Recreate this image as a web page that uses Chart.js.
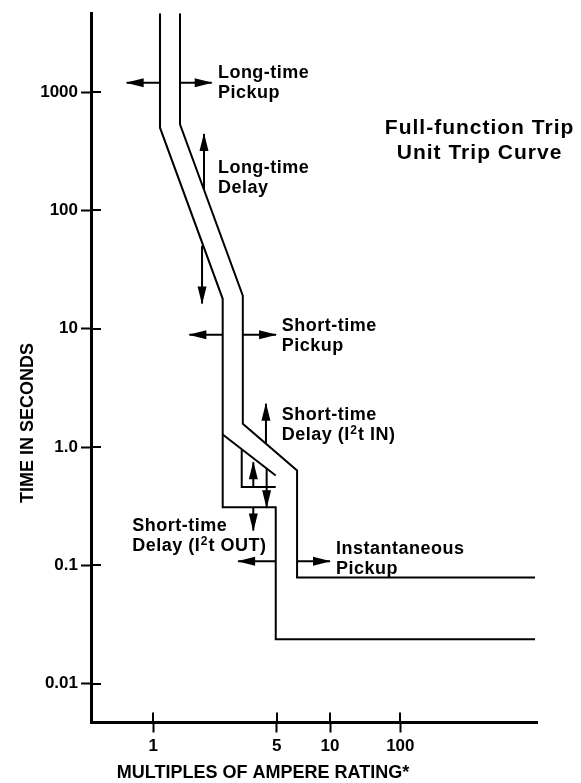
<!DOCTYPE html>
<html><head><meta charset="utf-8">
<script src="https://cdn.jsdelivr.net/npm/chart.js@4.4.0/dist/chart.umd.min.js"></script>
<style>html,body{margin:0;padding:0;background:#fff;}canvas{display:block;}</style>
</head><body>
<canvas id="c" width="581" height="783"></canvas>
<script>
// ---------------- data ----------------
const yTickValues = [0.01, 0.1, 1, 10, 100, 1000];
const yTickLabels = ['0.01', '0.1', '1.0', '10', '100', '1000'];
// The reference axis is compressed beyond 10: its "100" tick sits where 25 would fall on a true log scale.
const xTickValues = [1, 5, 10, 25];
const xTickLabels = ['1', '5', '10', '100'];

// upper (maximum) edge of the trip band
const upperX = [1.416, 1.416, 3.21, 3.21, 6.51, 6.51, 144.6];
const upperY = [4645, 534, 19.0, 1.57, 0.634, 0.0788, 0.0788];
// lower (minimum) edge of the trip band
const lowerX = [1.091, 1.091, 2.47, 2.47, 4.93, 4.93, 144.6];
const lowerY = [4645, 500, 17.9, 0.310, 0.310, 0.0237, 0.0237];
// I2t IN ramp of the lower edge
const i2tInX = [2.47, 4.93];
const i2tInY = [1.275, 0.575];
// alternate short-time delay band
const innerBoxX = [3.165, 3.165, 4.93];
const innerBoxY = [0.947, 0.458, 0.458];

// adjustment arrows: start point -> tip
const arrowX0 = [1.091, 1.416, 1.936, 1.887, 2.47, 3.21, 4.34, 3.68, 4.38, 3.68, 4.93, 6.51];
const arrowY0 = [1197, 1197, 149, 50.2, 8.9, 8.9, 1.064, 0.458, 0.659, 0.310, 0.108, 0.108];
const arrowX1 = [0.707, 2.14, 1.936, 1.887, 1.60, 4.95, 4.34, 3.68, 4.38, 3.68, 3.02, 10.0];
const arrowY1 = [1197, 1197, 442, 16.3, 8.9, 8.9, 2.32, 0.744, 0.310, 0.197, 0.108, 0.108];

// annotation texts (anchor = left end of first baseline); "²" is drawn as a raised 2
const labelLines = [
  ['Long-time', 'Pickup'],
  ['Long-time', 'Delay'],
  ['Short-time', 'Pickup'],
  ['Short-time', 'Delay (I\u00B2t IN)'],
  ['Short-time', 'Delay (I\u00B2t OUT)'],
  ['Instantaneous', 'Pickup']
];
const labelX = [2.32, 2.32, 5.33, 5.33, 0.760, 10.81];
const labelY = [1305, 208.5, 9.49, 1.696, 0.1948, 0.1255];

const titleLines = ['Full-function Trip', 'Unit Trip Curve'];
const titleX = 70.2;
const titleY = 442;

const yAxisTitle = 'TIME IN SECONDS';
const xAxisTitle = 'MULTIPLES OF AMPERE RATING*';

// ---------------- chart ----------------
const FONT = '"Liberation Sans", Arial, sans-serif';
const pts = (xs, ys) => xs.map((x, i) => ({x: x, y: ys[i]}));
const lineDs = (xs, ys) => ({data: pts(xs, ys), borderColor: '#000', borderWidth: 2,
  pointRadius: 0, fill: false, tension: 0});

const datasets = [
  lineDs(upperX, upperY),
  lineDs(lowerX, lowerY),
  lineDs(i2tInX, i2tInY),
  lineDs(innerBoxX, innerBoxY)
];
arrowX0.forEach((x, i) => {
  const d = lineDs([x, arrowX1[i]], [arrowY0[i], arrowY1[i]]);
  d.arrow = true;
  datasets.push(d);
});

function setSpacing(ctx, v) { if ('letterSpacing' in ctx) ctx.letterSpacing = v; }

// draws a line of text, rendering "²" as a raised, smaller "2"
function drawRich(ctx, s, x, y, mainFont, supFont) {
  const parts = s.split('\u00B2');
  let cx = x;
  parts.forEach((p, k) => {
    if (k > 0) {
      ctx.font = supFont;
      ctx.fillText('2', cx + 0.5, y - 6);
      cx += ctx.measureText('2').width + 1;
    }
    ctx.font = mainFont;
    ctx.fillText(p, cx, y);
    cx += ctx.measureText(p).width;
  });
}

const decor = {
  id: 'decor',
  afterDatasetsDraw(chart) {
    const ctx = chart.ctx;
    ctx.save();
    ctx.fillStyle = '#000';
    chart.data.datasets.forEach((ds, i) => {
      if (!ds.arrow) return;
      const m = chart.getDatasetMeta(i).data;
      const p0 = m[0], p1 = m[1];
      let dx = p1.x - p0.x, dy = p1.y - p0.y;
      const L = Math.hypot(dx, dy); dx /= L; dy /= L;
      const bx = p1.x - dx * 17, by = p1.y - dy * 17;
      const nx = -dy * 4.5, ny = dx * 4.5;
      ctx.beginPath();
      ctx.moveTo(p1.x + dx, p1.y + dy);
      ctx.lineTo(bx + nx, by + ny);
      ctx.lineTo(bx - nx, by - ny);
      ctx.closePath();
      ctx.fill();
    });
    ctx.restore();
  },
  afterDraw(chart) {
    const ctx = chart.ctx;
    const xs = chart.scales.x, ys = chart.scales.y;
    const ca = chart.chartArea;
    ctx.save();
    // inner halves of tick marks
    ctx.strokeStyle = '#000';
    ctx.lineWidth = 2;
    ys.ticks.forEach(t => {
      const py = Math.round(ys.getPixelForValue(t.value));
      ctx.beginPath(); ctx.moveTo(ca.left, py); ctx.lineTo(ca.left + 10, py); ctx.stroke();
    });
    xs.ticks.forEach(t => {
      const px = Math.round(xs.getPixelForValue(t.value));
      ctx.beginPath(); ctx.moveTo(px, ca.bottom); ctx.lineTo(px, ca.bottom - 10); ctx.stroke();
    });
    // annotations
    ctx.fillStyle = '#000';
    ctx.textBaseline = 'alphabetic';
    setSpacing(ctx, '0.5px');
    ctx.textAlign = 'left';
    const mainFont = 'bold 18px ' + FONT, supFont = 'bold 12px ' + FONT;
    labelLines.forEach((lines, i) => {
      const px = xs.getPixelForValue(labelX[i]);
      const py = ys.getPixelForValue(labelY[i]);
      lines.forEach((s, k) => drawRich(ctx, s, px, py + k * 20, mainFont, supFont));
    });
    // title
    ctx.font = 'bold 21px ' + FONT;
    setSpacing(ctx, '1px');
    ctx.textAlign = 'center';
    const tx = xs.getPixelForValue(titleX), ty = ys.getPixelForValue(titleY);
    titleLines.forEach((s, k) => ctx.fillText(s, tx, ty + k * 25));
    // axis titles
    setSpacing(ctx, '0px');
    ctx.font = 'bold 18px ' + FONT;
    ctx.textAlign = 'center';
    ctx.textBaseline = 'middle';
    ctx.save();
    ctx.translate(ys.left + 28, 423);
    ctx.rotate(-Math.PI / 2);
    ctx.fillText(yAxisTitle, 0, 0);
    ctx.restore();
    ctx.textBaseline = 'alphabetic';
    ctx.fillText(xAxisTitle, 263, 778);
    ctx.restore();
  }
};

const tickFont = {family: FONT, weight: 'bold', size: 17};
new Chart(document.getElementById('c'), {
  type: 'line',
  data: {datasets: datasets},
  options: {
    responsive: false,
    animation: false,
    layout: {padding: {top: 12, right: 44, left: 0, bottom: 0}},
    plugins: {legend: {display: false}, tooltip: {enabled: false}},
    scales: {
      x: {
        type: 'logarithmic', position: 'bottom', min: 0.444, max: 148.4,
        afterBuildTicks: s => { s.ticks = xTickValues.map(v => ({value: v})); },
        afterFit: s => { s.height = 60.5; },
        ticks: {callback: (v, i) => xTickLabels[i], autoSkip: false, maxRotation: 0,
          padding: 4, color: '#000', font: tickFont},
        grid: {drawOnChartArea: false, drawTicks: true, tickLength: 10, tickWidth: 2, tickColor: '#000'},
        border: {display: true, color: '#000', width: 3}
      },
      y: {
        type: 'logarithmic', position: 'left', min: 0.00469, max: 4645,
        afterBuildTicks: s => { s.ticks = yTickValues.map(v => ({value: v})); },
        afterFit: s => { s.width = 91; },
        ticks: {callback: (v, i) => yTickLabels[i], autoSkip: false,
          padding: 3, color: '#000', font: tickFont},
        grid: {drawOnChartArea: false, drawTicks: true, tickLength: 10, tickWidth: 2, tickColor: '#000'},
        border: {display: true, color: '#000', width: 3}
      }
    }
  },
  plugins: [decor]
});
</script>
</body></html>
